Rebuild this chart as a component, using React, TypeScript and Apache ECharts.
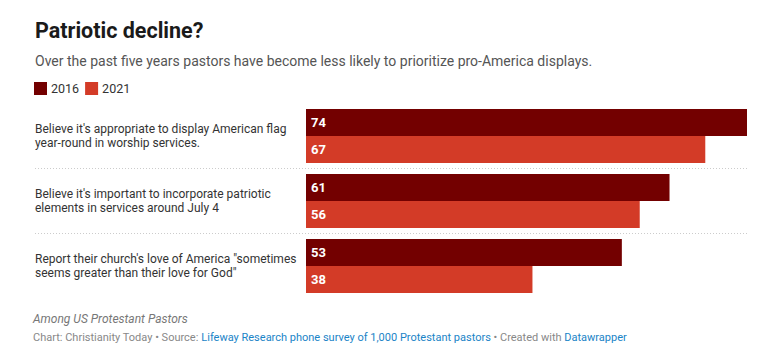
import React, { useEffect, useRef } from "react";
import * as echarts from "echarts";

const categories = [
  "Believe it's appropriate to display American flag\nyear-round in worship services.",
  "Believe it's important to incorporate patriotic\nelements in services around July 4",
  "Report their church's love of America \"sometimes\nseems greater than their love for God\"",
];
const values2016 = [74, 61, 53];
const values2021 = [67, 56, 38];
const seriesNames = ["2016", "2021"];

const FONT = "Roboto, 'Noto Sans', sans-serif";

export default function App() {
  const ref = useRef<HTMLDivElement>(null);
  useEffect(() => {
    if (!ref.current) return;
    const chart = echarts.init(ref.current, null, { renderer: "svg" });
    chart.setOption({
      animation: false,
      textStyle: { fontFamily: FONT },
      legend: {
        data: seriesNames,
        left: 29,
        top: 77,
        itemWidth: 13,
        itemHeight: 13,
        itemGap: 6,
        icon: "rect",
        textStyle: { fontSize: 12.5, color: "#333", padding: [0, 0, 0, -1], fontFamily: FONT },
        selectedMode: false,
      },
      grid: { left: 306, right: 29, top: 103.5, height: 195, containLabel: false },
      xAxis: {
        type: "value",
        min: 0,
        max: 74,
        show: false,
      },
      yAxis: {
        type: "category",
        data: categories,
        inverse: true,
        axisLine: { show: false },
        axisTick: { show: false },
        splitLine: { show: false },
        axisLabel: {
          align: "left",
          margin: 271,
          fontSize: 12,
          lineHeight: 14,
          color: "#333",
          fontFamily: FONT,
        },
      },
      series: [
        {
          name: seriesNames[0],
          type: "bar",
          data: values2016,
          barGap: "0%",
          barCategoryGap: "17%",
          itemStyle: { color: "#730000" },
          label: {
            show: true,
            position: "insideLeft",
            distance: 5,
            color: "#fff",
            fontWeight: "bold",
            fontSize: 13,
            fontFamily: FONT,
          },
        },
        {
          name: seriesNames[1],
          type: "bar",
          data: values2021,
          barGap: "0%",
          barCategoryGap: "17%",
          itemStyle: { color: "#d33b27" },
          label: {
            show: true,
            position: "insideLeft",
            distance: 5,
            color: "#fff",
            fontWeight: "bold",
            fontSize: 13,
            fontFamily: FONT,
          },
        },
      ],
      graphic: [
        {
          type: "text",
          left: 35,
          top: 19,
          style: {
            text: "Patriotic decline?",
            font: `bold 21.5px ${FONT}`,
            fill: "#1a1a1a",
          },
        },
        {
          type: "text",
          left: 35,
          top: 54,
          style: {
            text: "Over the past five years pastors have become less likely to prioritize pro-America displays.",
            font: `14px ${FONT}`,
            fill: "#555",
          },
        },
        {
          type: "line",
          shape: { x1: 35, y1: 168.5, x2: 747, y2: 168.5 },
          style: { stroke: "#ccc", lineWidth: 1, lineDash: [1, 2] },
        },
        {
          type: "line",
          shape: { x1: 35, y1: 233.5, x2: 747, y2: 233.5 },
          style: { stroke: "#ccc", lineWidth: 1, lineDash: [1, 2] },
        },
        {
          type: "text",
          left: 33,
          top: 313,
          style: {
            text: "Among US Protestant Pastors",
            font: `italic 12px ${FONT}`,
            fill: "#777",
          },
        },
        {
          type: "text",
          left: 33,
          top: 332,
          style: {
            text: "{g|Chart: Christianity Today • Source: }{b|Lifeway Research phone survey of 1,000 Protestant pastors}{g| • Created with }{b|Datawrapper}",
            font: `11px ${FONT}`,
            rich: {
              g: { fill: "#888", font: `11px ${FONT}` },
              b: { fill: "#1a84c7", font: `11px ${FONT}` },
            },
          },
        },
      ],
    });
    return () => chart.dispose();
  }, []);
  return <div ref={ref} style={{ width: 776, height: 360, margin: -8 }} />;
}
